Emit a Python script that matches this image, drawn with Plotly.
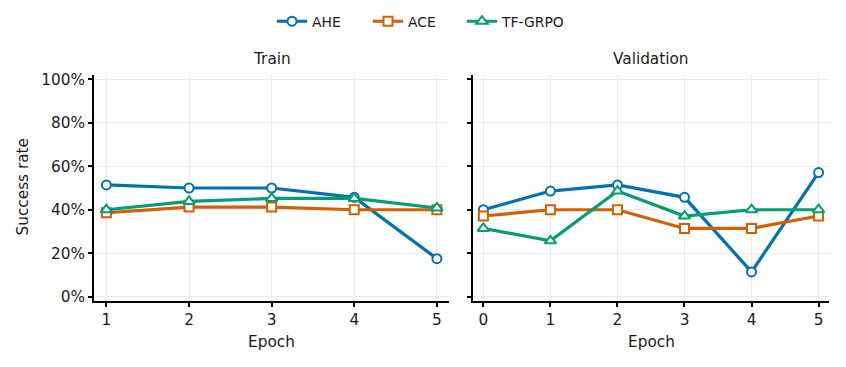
import plotly.graph_objects as go

train_epochs = [1, 2, 3, 4, 5]
val_epochs = [0, 1, 2, 3, 4, 5]

train_ahe = [0.514, 0.50, 0.50, 0.457, 0.175]
train_ace = [0.386, 0.412, 0.412, 0.40, 0.40]
train_tf = [0.40, 0.438, 0.452, 0.452, 0.408]

val_ahe = [0.40, 0.486, 0.514, 0.457, 0.114, 0.571]
val_ace = [0.371, 0.40, 0.40, 0.314, 0.314, 0.371]
val_tf = [0.314, 0.257, 0.486, 0.371, 0.40, 0.40]

series_names = ["AHE", "ACE", "TF-GRPO"]
colors = ["#0072B2", "#D55E00", "#009E73"]
symbols = ["circle", "square", "triangle-up"]

y_ticks = [0, 0.2, 0.4, 0.6, 0.8, 1.0]

FONT = "DejaVu Sans"
TXT = "#1a1a1a"
W, H = 846, 367

fig = go.Figure()

train_data = [train_ahe, train_ace, train_tf]
val_data = [val_ahe, val_ace, val_tf]
legend_ids = ["legend", "legend2", "legend3"]
legend_x = [275, 371, 465]

for i, name in enumerate(series_names):
    mk = dict(symbol=symbols[i], size=9 if i != 2 else 10,
              color="white", line=dict(color=colors[i], width=2))
    fig.add_trace(go.Scatter(
        x=train_epochs, y=train_data[i], name=name, mode="lines+markers",
        line=dict(color=colors[i], width=3.2), marker=mk,
        xaxis="x", yaxis="y", legend=legend_ids[i], showlegend=True))
    fig.add_trace(go.Scatter(
        x=val_epochs, y=val_data[i], name=name, mode="lines+markers",
        line=dict(color=colors[i], width=3.2), marker=mk,
        xaxis="x2", yaxis="y2", legend=legend_ids[i], showlegend=False))

ydom = [1 - 301 / H, 1 - 75 / H]
axis_common = dict(
    showline=True, linecolor="black", linewidth=1.8,
    ticks="outside", ticklen=4, tickwidth=1.5, tickcolor="black",
    showgrid=True, gridcolor="#ebebeb", gridwidth=1,
    zeroline=False, automargin=False,
    tickfont=dict(family=FONT, size=15.3, color=TXT),
)

legend_layouts = {}
for i, lid in enumerate(legend_ids):
    legend_layouts[lid] = dict(
        orientation="h", x=(legend_x[i] - 3) / W, xanchor="left",
        y=1 - 21.7 / H, yanchor="middle", bgcolor="rgba(0,0,0,0)",
        font=dict(family=FONT, size=13.9, color=TXT), itemwidth=30)

left_c = (94 + 449.3) / 2 / W
right_c = (473.3 + 829.3) / 2 / W

def label(text, x, y, angle=0):
    return dict(text=text, x=x, y=y, xref="paper", yref="paper", showarrow=False,
                textangle=angle, font=dict(family=FONT, size=15.3, color=TXT),
                xanchor="center", yanchor="middle")

fig.update_layout(
    width=W, height=H,
    margin=dict(l=0, r=0, t=0, b=0),
    paper_bgcolor="white", plot_bgcolor="white",
    font=dict(family=FONT, color=TXT),
    showlegend=True,
    **legend_layouts,
    xaxis=dict(domain=[94 / W, 449.3 / W], range=[0.85, 5.15], tickvals=train_epochs,
               anchor="y", **axis_common),
    yaxis=dict(domain=ydom, range=[-0.02, 1.02], tickvals=y_ticks, tickformat=".0%",
               anchor="x", **axis_common),
    xaxis2=dict(domain=[473.3 / W, 829.3 / W], range=[-0.15, 5.16], tickvals=val_epochs,
                anchor="y2", **axis_common),
    yaxis2=dict(domain=ydom, range=[-0.02, 1.02], tickvals=y_ticks, showticklabels=False,
                anchor="x2", **axis_common),
    annotations=[
        label("Train", left_c, 1 - 59 / H),
        label("Validation", right_c, 1 - 59 / H),
        label("Epoch", left_c, 1 - 342 / H),
        label("Epoch", right_c, 1 - 342 / H),
        label("Success rate", 22.5 / W, 1 - 187 / H, -90),
    ],
)

fig.write_html("out.html")
